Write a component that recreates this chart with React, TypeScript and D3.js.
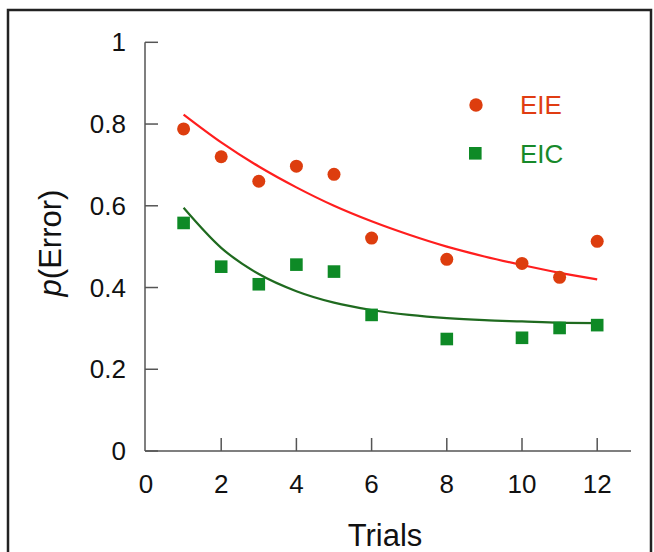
import React from "react";
import * as d3 from "d3";

const trials = [1, 2, 3, 4, 5, 6, 8, 10, 11, 12];
const eieValues = [0.788, 0.72, 0.66, 0.697, 0.677, 0.521, 0.469, 0.459, 0.425, 0.513];
const eicValues = [0.558, 0.451, 0.408, 0.456, 0.439, 0.333, 0.274, 0.277, 0.301, 0.308];

const fitTrials = [1, 2, 3, 4, 5, 6, 7, 8, 9, 10, 11, 12];
const eieFit = [0.823, 0.755, 0.696, 0.645, 0.6, 0.562, 0.529, 0.5, 0.476, 0.455, 0.436, 0.42];
const eicFit = [0.595, 0.497, 0.433, 0.391, 0.363, 0.345, 0.333, 0.325, 0.32, 0.317, 0.314, 0.313];

const xTicks = [0, 2, 4, 6, 8, 10, 12];
const yTicks = [0, 0.2, 0.4, 0.6, 0.8, 1];
const seriesNames = ["EIE", "EIC"];

const W = 654;
const H = 552;
const FONT = "'Liberation Sans', Arial, Helvetica, sans-serif";

export default function App() {
  const x = d3.scaleLinear().domain([0, 12]).range([146, 597.2]);
  const y = d3.scaleLinear().domain([0, 1]).range([451, 42.3]);
  const axisX0 = 145;
  const axisXEnd = 631;
  const axisColor = "#555";

  const line = d3
    .line<[number, number]>()
    .x((d) => x(d[0]))
    .y((d) => y(d[1]))
    .curve(d3.curveMonotoneX);

  const eieLine = line(fitTrials.map((t, i) => [t, eieFit[i]] as [number, number])) || "";
  const eicLine = line(fitTrials.map((t, i) => [t, eicFit[i]] as [number, number])) || "";

  const redMarker = "#dd3d0e";
  const greenMarker = "#0e8a26";

  return (
    <div style={{ position: "absolute", left: 0, top: 0 }}>
      <svg width={W} height={H} style={{ display: "block", background: "#fff" }}>
        <rect x={0} y={0} width={W} height={H} fill="#fff" />
        {/* frame */}
        <rect x={8} y={10} width={643} height={620} fill="none" stroke="#222" strokeWidth={2.5} />

        {/* axes */}
        <line x1={axisX0} x2={axisX0} y1={y(0)} y2={y(1)} stroke={axisColor} strokeWidth={1.5} />
        <line x1={axisX0} x2={axisXEnd} y1={y(0)} y2={y(0)} stroke={axisColor} strokeWidth={1.5} />
        {yTicks.map((t) => (
          <g key={"y" + t}>
            <line x1={axisX0} x2={axisX0 + 13} y1={y(t)} y2={y(t)} stroke={axisColor} strokeWidth={1.5} />
            <text
              x={126}
              y={y(t)}
              dy="0.35em"
              textAnchor="end"
              fontFamily={FONT}
              fontSize={26}
              fill="#111"
            >
              {t === 0 || t === 1 ? String(t) : t.toFixed(1)}
            </text>
          </g>
        ))}
        {xTicks.map((t) => (
          <g key={"x" + t}>
            {t !== 0 && (
              <line x1={x(t)} x2={x(t)} y1={y(0)} y2={y(0) - 13} stroke={axisColor} strokeWidth={1.5} />
            )}
            <text
              x={x(t)}
              y={492.5}
              textAnchor="middle"
              fontFamily={FONT}
              fontSize={26}
              fill="#111"
            >
              {t}
            </text>
          </g>
        ))}

        {/* axis titles */}
        <text x={385} y={546} textAnchor="middle" fontFamily={FONT} fontSize={31} fill="#111">
          Trials
        </text>
        <text
          transform={`translate(61, 243) rotate(-90)`}
          textAnchor="middle"
          fontFamily={FONT}
          fontSize={31}
          fill="#111"
        >
          <tspan fontStyle="italic">p</tspan>(Error)
        </text>

        {/* fit curves */}
        <path d={eieLine} fill="none" stroke="#ff1e1e" strokeWidth={2.2} />
        <path d={eicLine} fill="none" stroke="#1f6a1f" strokeWidth={2.2} />

        {/* points */}
        {trials.map((t, i) => (
          <circle key={"c" + t} cx={x(t)} cy={y(eieValues[i])} r={6.5} fill={redMarker} />
        ))}
        {trials.map((t, i) => (
          <rect
            key={"s" + t}
            x={x(t) - 6.3}
            y={y(eicValues[i]) - 6.3}
            width={12.6}
            height={12.6}
            fill={greenMarker}
          />
        ))}

        {/* legend */}
        <circle cx={476} cy={105} r={6.7} fill={redMarker} />
        <text x={520} y={114} fontFamily={FONT} fontSize={26} fill="#e03c12">
          {seriesNames[0]}
        </text>
        <rect x={469} y={147} width={12.6} height={12.6} fill={greenMarker} />
        <text x={520} y={163} fontFamily={FONT} fontSize={26} fill="#17892a">
          {seriesNames[1]}
        </text>
      </svg>
    </div>
  );
}
